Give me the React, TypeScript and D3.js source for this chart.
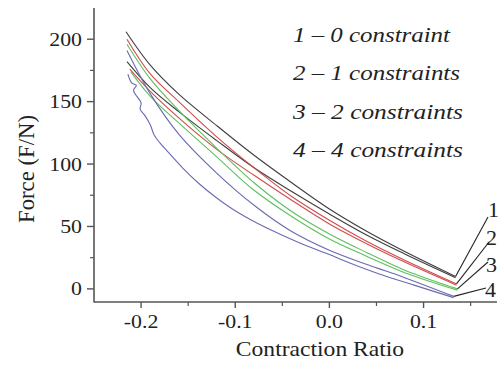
import React from 'react';
import * as d3 from 'd3';

type Pt = [number, number];

// Force vs. contraction ratio, two runs per constraint configuration
const noConstraintA: Pt[] = [[-0.216, 206], [-0.19, 179], [-0.16, 156], [-0.12, 131], [-0.08, 107], [-0.04, 85], [0.0, 64], [0.04, 46], [0.08, 30], [0.134, 10]];
const noConstraintB: Pt[] = [[-0.215, 182], [-0.19, 161], [-0.16, 142], [-0.12, 119], [-0.08, 97], [-0.04, 78], [0.0, 60], [0.04, 43], [0.08, 28], [0.134, 9]];
const oneConstraintA: Pt[] = [[-0.215, 200], [-0.19, 172], [-0.16, 150], [-0.12, 122], [-0.08, 97], [-0.04, 74], [0.0, 55], [0.04, 38], [0.08, 23], [0.135, 4]];
const oneConstraintB: Pt[] = [[-0.212, 176], [-0.19, 158], [-0.16, 137], [-0.12, 112], [-0.08, 91], [-0.04, 71], [0.0, 52], [0.04, 36], [0.08, 21.5], [0.135, 3]];
const twoConstraintsA: Pt[] = [[-0.215, 196], [-0.19, 168], [-0.16, 143], [-0.12, 113], [-0.08, 85], [-0.04, 62], [0.0, 44], [0.04, 29], [0.08, 15], [0.136, 0]];
const twoConstraintsB: Pt[] = [[-0.211, 174], [-0.19, 154], [-0.16, 133], [-0.12, 106], [-0.08, 79], [-0.04, 58], [0.0, 40], [0.04, 26], [0.08, 13], [0.136, -1]];
const fourConstraintsA: Pt[] = [[-0.215, 191], [-0.19, 156], [-0.16, 124], [-0.12, 93], [-0.08, 67], [-0.04, 46], [0.0, 31], [0.04, 19.5], [0.08, 9], [0.132, -6]];
const fourConstraintsB: Pt[] = [[-0.214, 172], [-0.21, 165], [-0.205, 163], [-0.208, 159], [-0.2, 149], [-0.201, 144], [-0.196, 139], [-0.19, 131], [-0.186, 123], [-0.18, 117], [-0.173, 111], [-0.156, 97], [-0.138, 84], [-0.12, 73], [-0.103, 64], [-0.085, 56], [-0.067, 49], [-0.032, 37], [0.0, 27.5], [0.021, 21], [0.053, 12], [0.09, 3], [0.132, -7]];

const groupLabels = ['1', '2', '3', '4'];
const legendLines = ['1 \u2013 0 constraint', '2 \u2013 1 constraints', '3 \u2013 2 constraints', '4 \u2013 4 constraints'];
const groupColors = ['#3e3e3e', '#d04c4c', '#5fbf5f', '#6a6ab2'];
const groups: Pt[][][] = [
  [noConstraintA, noConstraintB],
  [oneConstraintA, oneConstraintB],
  [twoConstraintsA, twoConstraintsB],
  [fourConstraintsA, fourConstraintsB],
];

const xMajor = [-0.2, -0.1, 0.0, 0.1];
const xMinor = [-0.15, -0.05, 0.05, 0.15];
const yMajor = [0, 50, 100, 150, 200];
const yMinor = [25, 75, 125, 175];

const FONT = "'Liberation Serif', 'DejaVu Serif', serif";
const SX = 1.18;
const textStyle = { fontFamily: FONT };

export default function App() {
  const x = d3.scaleLinear().domain([-0.25, 0.178]).range([94, 497]);
  const y = d3.scaleLinear().domain([-10.5, 225]).range([302, 8]);
  const line = d3
    .line<Pt>()
    .x((d) => x(d[0]))
    .y((d) => y(d[1]))
    .curve(d3.curveCatmullRom.alpha(0.5));

  const x0 = x.range()[0];
  const y0 = y.range()[0];

  // end points for the numbered leader lines
  const leaderEnds: Pt[] = [[488, 217], [489, 242], [488, 262], [486, 288]];
  const labelPos: Pt[] = [[488, 217], [486, 245], [486, 272], [485, 297]];

  return (
    <svg
      width={503}
      height={366}
      style={{ position: 'absolute', left: 0, top: 0, background: '#fff', fontFamily: FONT }}
    >
      {/* data curves */}
      {groups.map((pair, gi) =>
        pair.map((s, si) => (
          <path
            key={`${gi}-${si}`}
            d={line(s) || ''}
            fill="none"
            stroke={groupColors[gi]}
            strokeWidth={1.1}
            strokeLinejoin="round"
          />
        ))
      )}

      {/* leader lines to numbered labels */}
      {groups.map((pair, gi) => {
        const last = pair[0][pair[0].length - 1];
        return (
          <line
            key={`ld-${gi}`}
            x1={x(last[0])}
            y1={y(last[1])}
            x2={leaderEnds[gi][0]}
            y2={leaderEnds[gi][1]}
            stroke="#222"
            strokeWidth={1.1}
          />
        );
      })}
      {groupLabels.map((t, i) => (
        <text key={`gl-${i}`} x={labelPos[i][0]} y={labelPos[i][1]} fontSize={22} fill="#222" style={textStyle}>
          {t}
        </text>
      ))}

      {/* axes */}
      <line x1={x0} y1={y.range()[1]} x2={x0} y2={y0 + 0.5} stroke="#555" strokeWidth={1.6} />
      <line x1={x0} y1={y0} x2={x.range()[1]} y2={y0} stroke="#555" strokeWidth={1.6} />

      {yMajor.map((v) => (
        <g key={`ym-${v}`}>
          <line x1={x0 - 7} x2={x0} y1={y(v)} y2={y(v)} stroke="#555" strokeWidth={1.4} />
          <text
            transform={`translate(${x0 - 12},${y(v) + 6.5}) scale(${SX},1)`}
            textAnchor="end"
            fontSize={18.5}
            fill="#222"
            style={textStyle}
          >
            {v}
          </text>
        </g>
      ))}
      {yMinor.map((v) => (
        <line key={`yn-${v}`} x1={x0 - 4} x2={x0} y1={y(v)} y2={y(v)} stroke="#555" strokeWidth={1.2} />
      ))}

      {xMajor.map((v) => (
        <g key={`xm-${v}`}>
          <line x1={x(v)} x2={x(v)} y1={y0} y2={y0 + 6} stroke="#555" strokeWidth={1.4} />
          <text
            transform={`translate(${x(v)},${y0 + 26}) scale(${SX},1)`}
            textAnchor="middle"
            fontSize={18.5}
            fill="#222"
            style={textStyle}
          >
            {v.toFixed(1)}
          </text>
        </g>
      ))}
      {xMinor.map((v) => (
        <line key={`xn-${v}`} x1={x(v)} x2={x(v)} y1={y0} y2={y0 + 4} stroke="#555" strokeWidth={1.2} />
      ))}

      {/* axis titles */}
      <text
        transform={`translate(320,356) scale(${SX},1)`}
        textAnchor="middle"
        fontSize={20}
        fill="#222"
        style={textStyle}
      >
        Contraction Ratio
      </text>
      <text
        transform={`translate(34,169) scale(${SX},1) rotate(-90)`}
        textAnchor="middle"
        fontSize={20}
        fill="#222"
        textLength={108}
        lengthAdjust="spacingAndGlyphs"
        style={textStyle}
      >
        {'Force  (F/N)'}
      </text>

      {/* legend */}
      {legendLines.map((t, i) => (
        <text
          key={`lg-${i}`}
          x={293}
          y={42 + i * 38.3}
          fontSize={22}
          fontStyle="italic"
          fill="#222"
          textLength={[157, 167, 170, 170][i]}
          lengthAdjust="spacingAndGlyphs"
          style={textStyle}
        >
          {t}
        </text>
      ))}
    </svg>
  );
}
